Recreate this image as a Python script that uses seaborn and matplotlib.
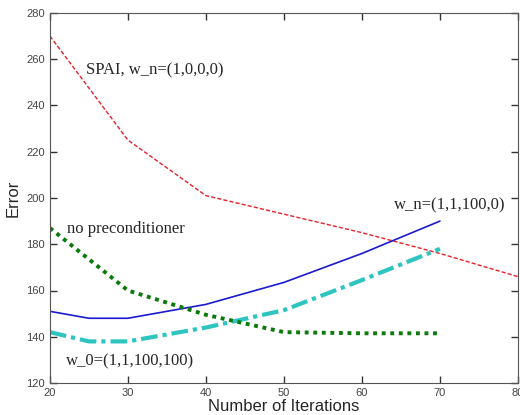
import pandas as pd
import matplotlib
matplotlib.use('Agg')
import matplotlib.pyplot as plt
import seaborn as sns

# data
iters_spai = [20, 30, 40, 50, 60, 70, 80]
err_spai = [270, 225, 201, 193, 185, 176, 166]

iters = [20, 25, 30, 40, 50, 60, 70]
err_wn = [151, 148, 148, 154, 163.5, 176, 190]
err_w0 = [142, 138, 138, 144, 151.5, 164.5, 178]

iters_none = [20, 30, 40, 50, 60, 70]
err_none = [187, 160, 149.5, 142, 141.5, 141.5]

sns.set_style('ticks', {'xtick.direction': 'in', 'ytick.direction': 'in'})
plt.rcParams['font.family'] = ['Liberation Sans', 'DejaVu Sans']

fig = plt.figure(figsize=(5.2, 4.15), dpi=100)
ax = fig.add_axes([0.096, 0.077, 0.9, 0.892])

sns.lineplot(x=iters_spai, y=err_spai, ax=ax, color='#e8202a', lw=1, linestyle=(0, (3, 1.5)))
sns.lineplot(x=iters, y=err_wn, ax=ax, color='#1a1ad0', lw=1.2)
sns.lineplot(x=iters, y=err_w0, ax=ax, color='#2ec4c0', lw=3, linestyle=(0, (4, 1.2, 1, 1.2)))
sns.lineplot(x=iters_none, y=err_none, ax=ax, color='#0b7a0b', lw=2.8, linestyle=(0, (1, 1.2)))

ax.set_xlim(20, 80)
ax.set_ylim(120, 280)
ax.set_xticks(range(20, 81, 10))
ax.set_yticks(range(120, 281, 20))
ax.tick_params(which='major', direction='in', bottom=True, left=True, top=True, right=True,
               labelsize=8, labelcolor='#444444', length=5, width=1, color='#333333')
for s in ax.spines.values():
    s.set_visible(True)
    s.set_color('#555555')
    s.set_linewidth(0.8)

ax.set_xlabel('Number of Iterations', fontsize=12, labelpad=1)
ax.set_ylabel('Error', fontsize=12, labelpad=4)

serif = ['Liberation Serif', 'DejaVu Serif']
ax.text(24.6, 255, 'SPAI, w_n=(1,0,0,0)', family=serif, fontsize=12, va='center')
ax.text(22.2, 186.7, 'no preconditioner', family=serif, fontsize=12, va='center')
ax.text(22.1, 129.5, 'w_0=(1,1,100,100)', family=serif, fontsize=12, va='center')
ax.text(64.1, 196.6, 'w_n=(1,1,100,0)', family=serif, fontsize=12, va='center')

fig.savefig('out.png', dpi=100)
